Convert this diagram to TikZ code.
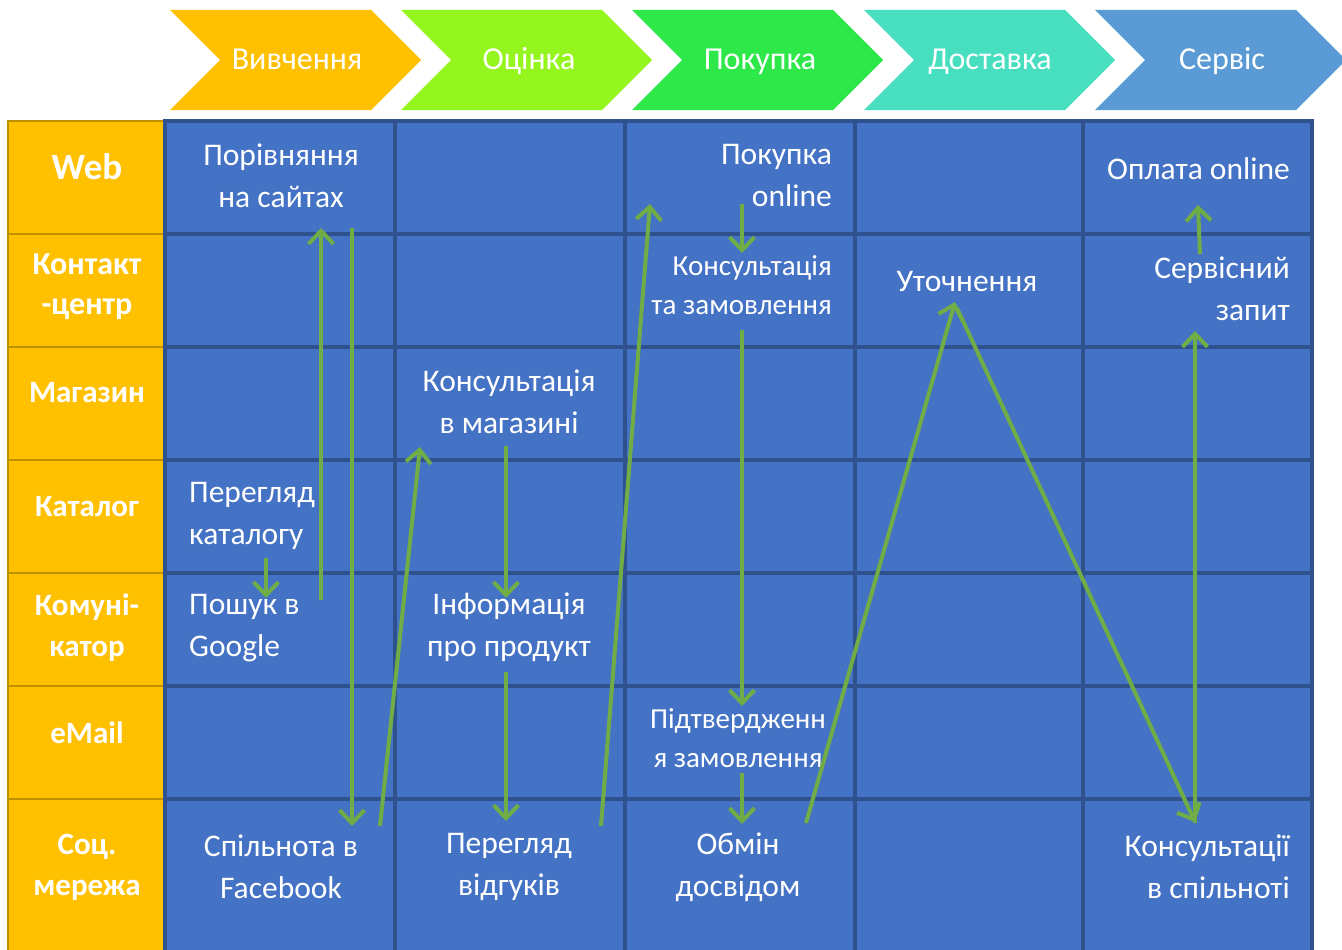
\documentclass[tikz,border=0pt]{standalone}
\usepackage{fontspec}
\setmainfont{Carlito}
\usetikzlibrary{arrows.meta}
\definecolor{chA}{HTML}{FFC000}
\definecolor{chB}{HTML}{95F51E}
\definecolor{chC}{HTML}{2EE84A}
\definecolor{chD}{HTML}{48DFC0}
\definecolor{chE}{HTML}{5B9BD5}
\definecolor{cellblue}{HTML}{4472C4}
\definecolor{cellline}{HTML}{2F528F}
\definecolor{goldline}{HTML}{BF9000}
\definecolor{arrgreen}{HTML}{70AD47}
\begin{document}
\begin{tikzpicture}[x=1pt,y=-1pt,
  bluecell/.style={fill=cellblue,draw=cellline,line width=3.5pt},
  goldcell/.style={fill=chA,draw=goldline,line width=2.5pt},
  chevtext/.style={text=white,font=\fontsize{32}{38}\selectfont,inner sep=0pt,anchor=base},
  rowlabel/.style={text=white,font=\fontsize{31}{41}\selectfont\bfseries,align=center,inner sep=0pt},
  celltext/.style={text=white,font=\fontsize{31.5}{42}\selectfont,inner sep=0pt},
  smalltext/.style={text=white,font=\fontsize{29}{39}\selectfont,inner sep=0pt},
  flow/.style={draw=arrgreen,line width=4pt,-{Straight Barb[length=13pt,width=25pt]}}]
\useasboundingbox (0,0) rectangle (1342,950);
\fill[white] (0,0) rectangle (1342,950);
% chevrons
\foreach \x/\c in {170/chA,401/chB,632/chC,864/chD,1095/chE}{
  \fill[\c] (\x,10) -- ++(201,0) -- ++(50,50) -- ++(-50,50) -- ++(-201,0) -- ++(50,-50) -- cycle;
}
\node[chevtext] (s1) at (297,70) {Вивчення};
\node[chevtext] (s2) at (529,70) {Оцінка};
\node[chevtext] (s3) at (760,70) {Покупка};
\node[chevtext] (s4) at (990,70) {Доставка};
\node[chevtext] (s5) at (1222,70) {Сервіс};
% grid
\foreach \ya/\yb in {121/234,234/347,347/460,460/573,573/686,686/799,799/965}{
  \filldraw[goldcell] (8,\ya) rectangle (165,\yb);
  \foreach \xa/\xb in {165/395,395/625,625/855,855/1083,1083/1312}{
    \filldraw[bluecell] (\xa,\ya) rectangle (\xb,\yb);
  }
}
% row labels
\node[rowlabel,font=\fontsize{37}{41}\selectfont\bfseries] (rWeb) at (87,167) {Web};
\node[rowlabel,font=\fontsize{32}{40}\selectfont\bfseries] (rCall) at (87,287) {Контакт\\-центр};
\node[rowlabel] (rShop) at (87,393) {Магазин};
\node[rowlabel] (rCat) at (87,507) {Каталог};
\node[rowlabel] (rCom) at (87,628) {Комуні-\\катор};
\node[rowlabel] (rMail) at (87,733) {eMail};
\node[rowlabel] (rSoc) at (87,867) {Соц.\\мережа};
% cell texts
\node[celltext,align=center] (cmp) at (281,176) {Порівняння\\на сайтах};
\node[celltext,align=right,anchor=east] (buy) at (832,176) {Покупка\\online};
\node[celltext,anchor=east] (pay) at (1290,169) {Оплата online};
\node[smalltext,align=right,anchor=east] (cons) at (832,285) {Консультація\\та замовлення};
\node[celltext] (spec) at (967,282) {Уточнення};
\node[celltext,align=right,anchor=east] (serv) at (1290,289) {Сервісний\\запит};
\node[celltext,align=center] (shop) at (509,402) {Консультація\\в магазині};
\node[celltext,align=left,anchor=west] (cat) at (189,516) {Перегляд\\каталогу};
\node[celltext,align=left,anchor=west] (goog) at (189,628) {Пошук в\\Google};
\node[celltext,align=center] (info) at (509,627) {Інформація\\про продукт};
\node[smalltext,align=center] (conf) at (738,738) {Підтвердженн\\я замовлення};
\node[celltext,align=center] (fb) at (281,867) {Спільнота в\\Facebook};
\node[celltext,align=center] (rev) at (509,867) {Перегляд\\відгуків};
\node[celltext,align=center] (exch) at (738,867) {Обмін\\досвідом};
\node[celltext,align=right,anchor=east] (comm) at (1290,867) {Консультації\\в спільноті};
% arrow end points
\coordinate (a1s) at (321,600); \coordinate (a1e) at (321,228);
\coordinate (a2s) at (352,228); \coordinate (a2e) at (352,826);
\coordinate (a3s) at (380,826); \coordinate (a3e) at (420,447);
\coordinate (a4s) at (506,446); \coordinate (a4e) at (506,598);
\coordinate (a5s) at (506,672); \coordinate (a5e) at (506,821);
\coordinate (a6s) at (601,826); \coordinate (a6e) at (650,204);
\coordinate (a7s) at (742,204); \coordinate (a7e) at (742,253);
\coordinate (a8s) at (742,330); \coordinate (a8e) at (742,706);
\coordinate (a9s) at (742,773); \coordinate (a9e) at (742,824);
\coordinate (a10s) at (806,823); \coordinate (a10e) at (955,302);
\coordinate (a11s) at (957,308); \coordinate (a11e) at (1195,822);
\coordinate (a12s) at (1195,823); \coordinate (a12e) at (1195,331);
\coordinate (a13s) at (1200,254); \coordinate (a13e) at (1198,205);
\coordinate (a14s) at (266,558); \coordinate (a14e) at (266,598);
\foreach \i in {1,...,14}{
  \draw[flow] (a\i s) -- (a\i e);
}
\end{tikzpicture}
\end{document}
